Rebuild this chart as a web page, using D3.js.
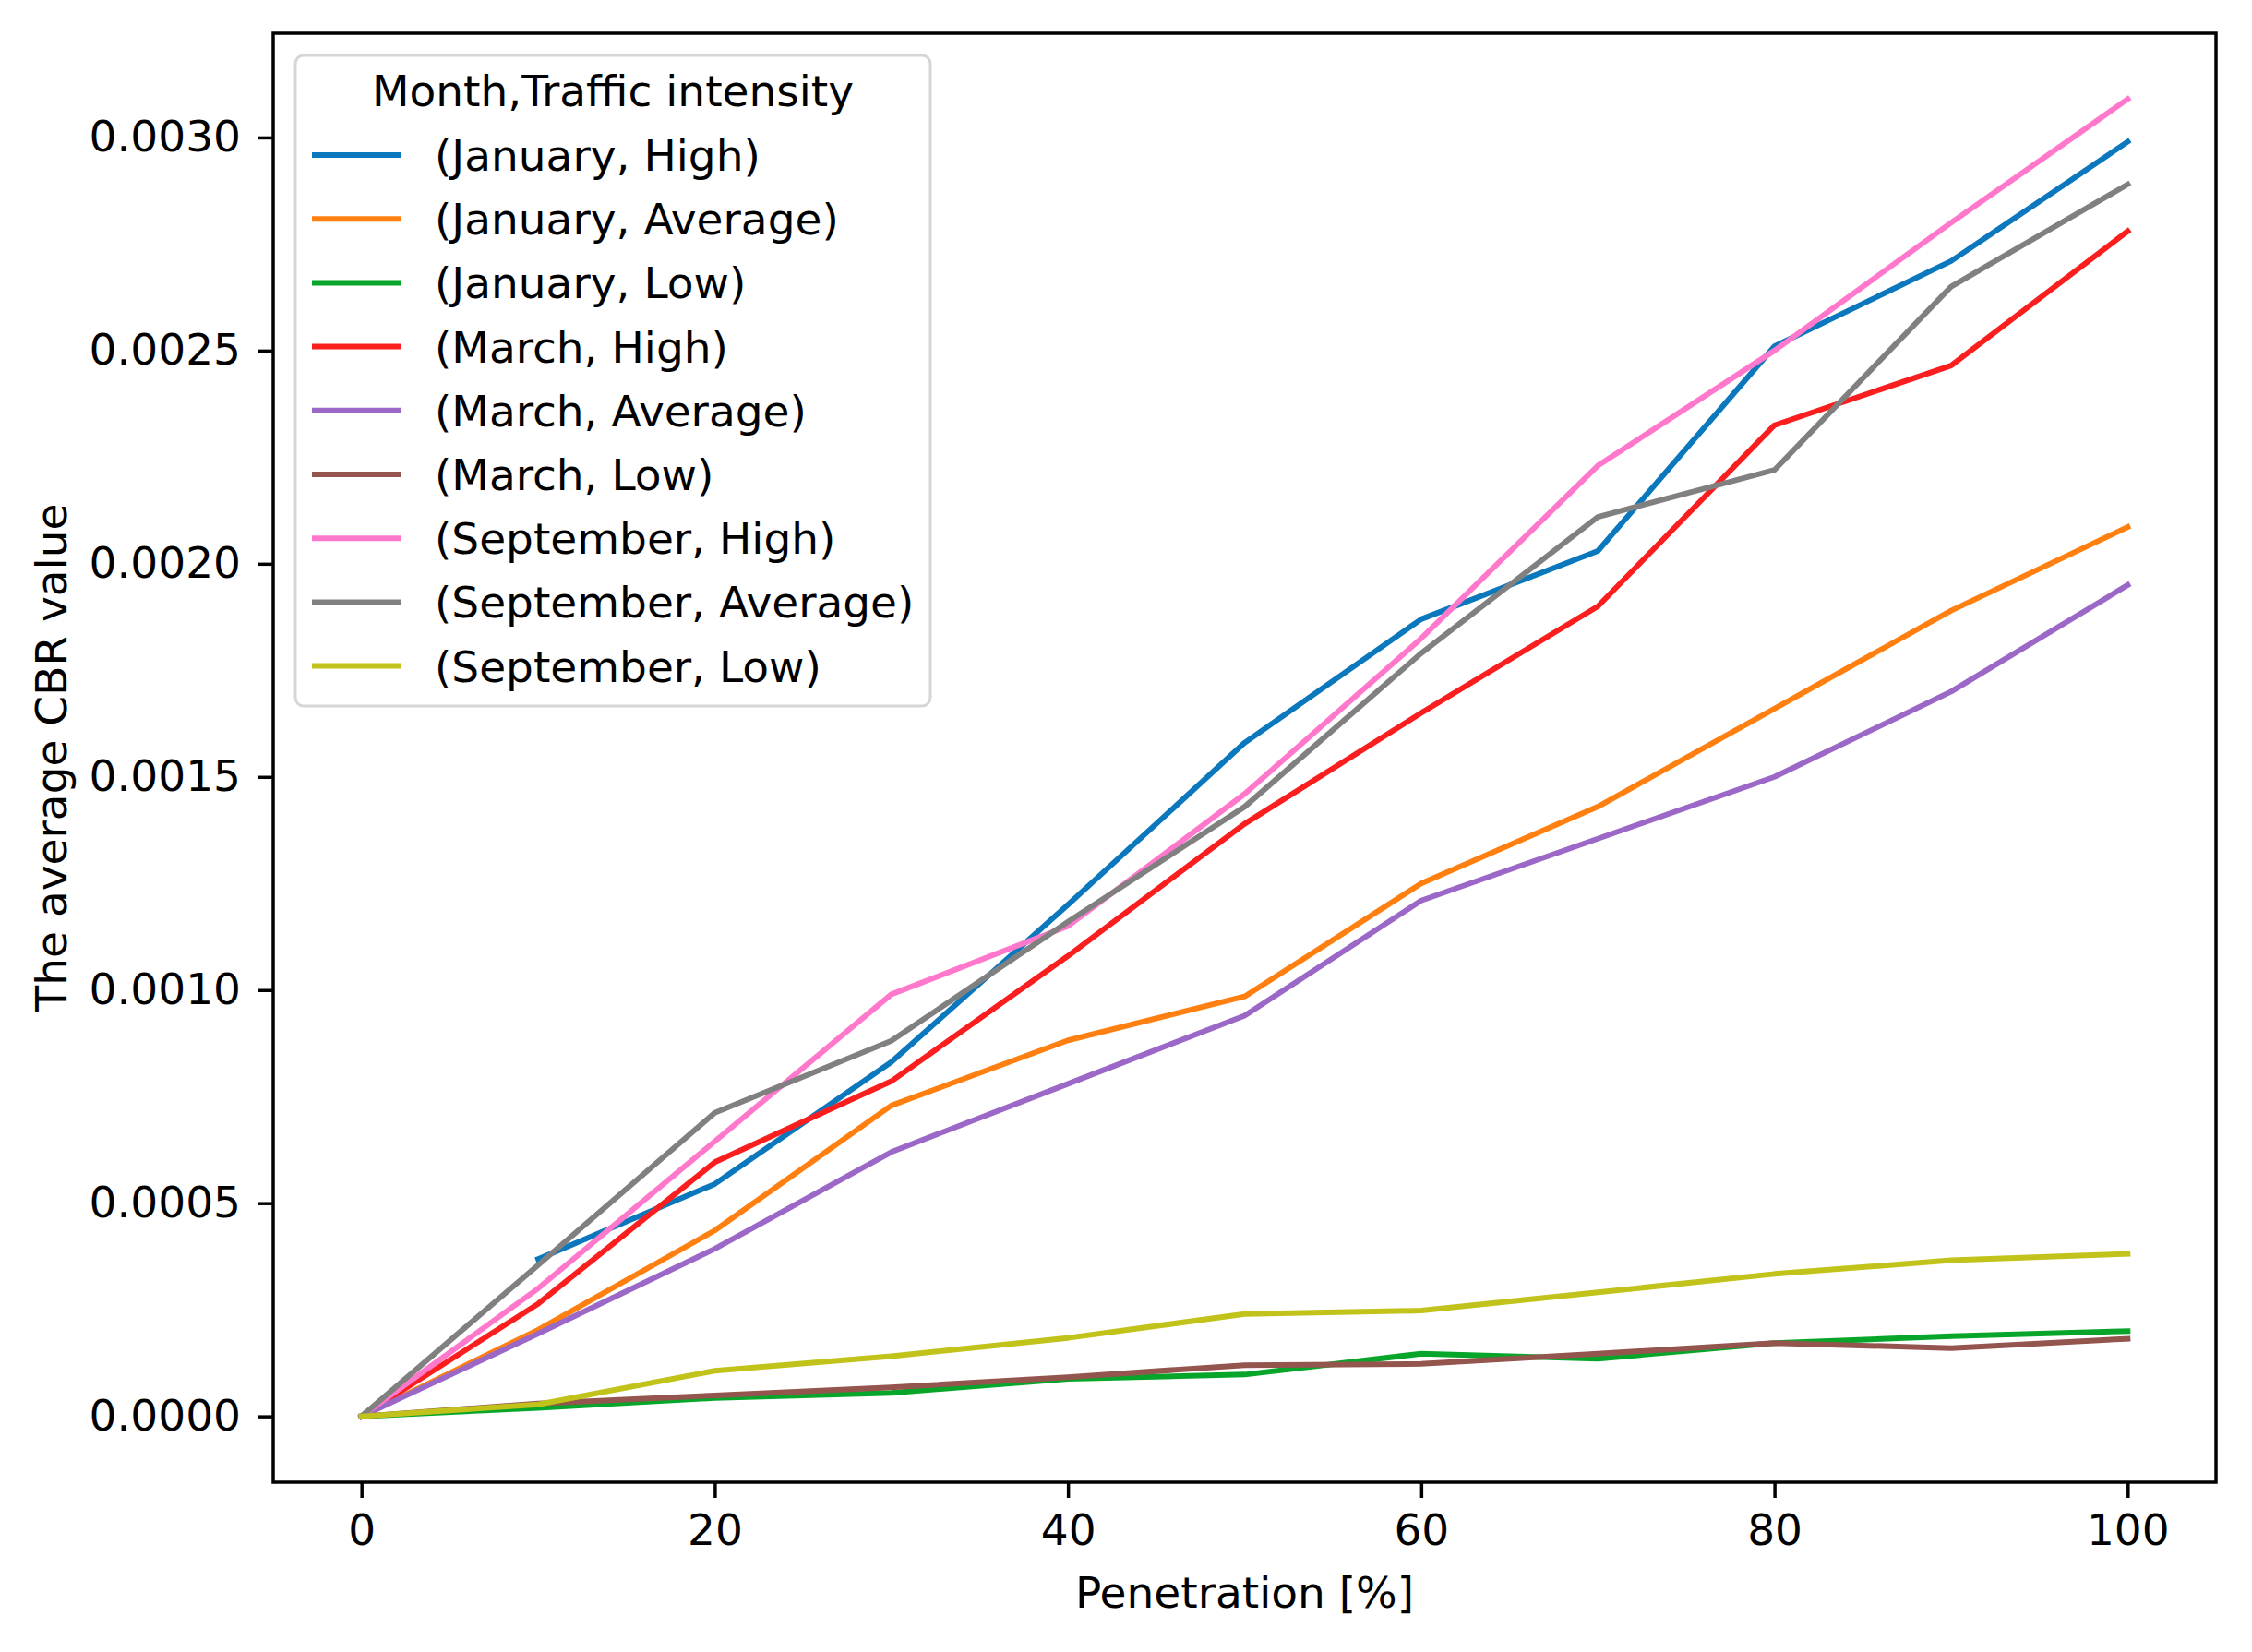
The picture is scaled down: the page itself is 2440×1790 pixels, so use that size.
<!DOCTYPE html>
<html>
<head>
<meta charset="utf-8">
<script src="https://cdn.jsdelivr.net/npm/d3@7"></script>
<style>
  html,body{margin:0;padding:0;background:#fff;}
  svg{display:block;font-family:"DejaVu Sans",sans-serif;}
</style>
</head>
<body>
<svg id="chart" width="2440" height="1790"></svg>
<script>
/* CBR vs penetration, one line per (month, traffic intensity) */
const penetration = [0, 10, 20, 30, 40, 50, 60, 70, 80, 90, 100];

const janHigh = [null, 0.000369, 0.000545, 0.000831, 0.00120, 0.00158, 0.00187, 0.00203, 0.00251, 0.00271, 0.00299];
const janAvg  = [0, 0.000203, 0.000436, 0.000729, 0.000882, 0.000985, 0.00125, 0.00143, 0.00166, 0.00189, 0.002086];
const janLow  = [0, 0.000020, 0.000043, 0.000055, 0.000088, 0.000098, 0.000147, 0.000135, 0.000172, 0.000188, 0.000200];
const marHigh = [0, 0.000264, 0.000596, 0.000786, 0.00108, 0.00139, 0.00165, 0.00190, 0.002325, 0.002465, 0.00278];
const marAvg  = [0, 0.000194, 0.000393, 0.000620, 0.00078, 0.00094, 0.00121, 0.001355, 0.00150, 0.00170, 0.00195];
const marLow  = [0, 0.000030, 0.000049, 0.000068, 0.000092, 0.000120, 0.000123, 0.000147, 0.000172, 0.000160, 0.000182];
const sepHigh = [0, 0.000300, 0.000645, 0.00099, 0.00115, 0.00146, 0.001825, 0.00223, 0.00250, 0.00280, 0.00309];
const sepAvg  = [0, 0.000355, 0.000712, 0.000881, 0.00116, 0.00143, 0.00179, 0.00211, 0.00222, 0.00265, 0.00289];
const sepLow  = [0, 0.000028, 0.000107, 0.000141, 0.000184, 0.000240, 0.000248, 0.000291, 0.000334, 0.000366, 0.000381];

const seriesNames = ["(January, High)", "(January, Average)", "(January, Low)",
  "(March, High)", "(March, Average)", "(March, Low)",
  "(September, High)", "(September, Average)", "(September, Low)"];
const seriesValues = [janHigh, janAvg, janLow, marHigh, marAvg, marLow, sepHigh, sepAvg, sepLow];
const colors = ["#0b78be", "#ff8010", "#07a62b", "#fa1e1e", "#9c68c8", "#93554e", "#ff78cc", "#808080", "#c1c21a"];

const xTicks = [0, 20, 40, 60, 80, 100];
const yTicks = [0, 0.0005, 0.0010, 0.0015, 0.0020, 0.0025, 0.0030];

const legendTitle = "Month,Traffic intensity";
const xLabel = "Penetration [%]";
const yLabel = "The average CBR value";

/* ---------------- layout ---------------- */
const svg = d3.select("#chart");
const FS = 47;
const LW = 6;
const box = {left:296, right:2401, top:36, bottom:1606};

const x = d3.scaleLinear().domain([-5, 105]).range([box.left, box.right]);
const y = d3.scaleLinear().domain([-0.0001545, 0.0032445]).range([box.bottom, box.top]);

/* lines */
const line = d3.line()
  .defined(d => d[1] != null)
  .x(d => x(d[0])).y(d => y(d[1]));

svg.append("g").selectAll("path").data(seriesValues).join("path")
  .attr("d", vals => line(vals.map((v,i)=>[penetration[i], v])))
  .attr("fill", "none")
  .attr("stroke", (d,i)=>colors[i])
  .attr("stroke-width", LW)
  .attr("stroke-linejoin", "round")
  .attr("stroke-linecap", "square");

/* axes */
const xAxis = d3.axisBottom(x).tickValues(xTicks).tickSize(17).tickPadding(18)
  .tickFormat(d3.format("d"));
const yAxis = d3.axisLeft(y).tickValues(yTicks).tickSize(17).tickPadding(18)
  .tickFormat(d3.format(".4f"));

const gx = svg.append("g").attr("transform", `translate(0,${box.bottom})`).call(xAxis);
const gy = svg.append("g").attr("transform", `translate(${box.left},0)`).call(yAxis);
[gx, gy].forEach(g=>{
  g.select(".domain").remove();
  g.selectAll(".tick line").attr("stroke", "#000").attr("stroke-width", 3.5);
  g.selectAll(".tick text").attr("fill", "#000")
    .style("font-size", FS+"px").style("font-family", "DejaVu Sans");
});

/* frame */
svg.append("rect")
  .attr("x", box.left).attr("y", box.top)
  .attr("width", box.right-box.left).attr("height", box.bottom-box.top)
  .attr("fill", "none").attr("stroke", "#000").attr("stroke-width", 3.5);

/* axis labels */
svg.append("text")
  .attr("x", (box.left+box.right)/2).attr("y", 1742)
  .attr("text-anchor", "middle").style("font-size", FS+"px")
  .text(xLabel);
svg.append("text")
  .attr("transform", `translate(72,${(box.top+box.bottom)/2}) rotate(-90)`)
  .attr("text-anchor", "middle").style("font-size", FS+"px")
  .text(yLabel);

/* legend */
const lg = svg.append("g");
lg.append("rect")
  .attr("x", 320).attr("y", 60).attr("width", 688).attr("height", 705)
  .attr("rx", 9).attr("ry", 9)
  .attr("fill", "#fff").attr("fill-opacity", 0.8)
  .attr("stroke", "#d6d6d6").attr("stroke-width", 3);
lg.append("text")
  .attr("x", 664).attr("y", 115)
  .attr("text-anchor", "middle").style("font-size", FS+"px")
  .text(legendTitle);
const rows = lg.selectAll("g.row").data(seriesNames).join("g")
  .attr("class", "row")
  .attr("transform", (d,i)=>`translate(0,${168 + i*69.2})`);
rows.append("line")
  .attr("x1", 338).attr("x2", 435).attr("y1", 0).attr("y2", 0)
  .attr("stroke", (d,i)=>colors[i]).attr("stroke-width", LW);
rows.append("text")
  .attr("x", 471).attr("y", 17)
  .style("font-size", FS+"px")
  .text(d=>d);
</script>
</body>
</html>
